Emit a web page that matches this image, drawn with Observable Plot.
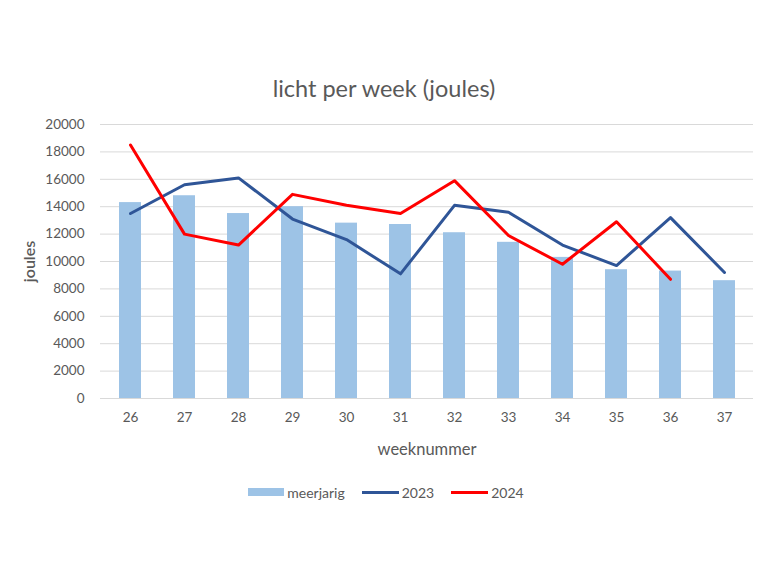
<!DOCTYPE html>
<html>
<head>
<meta charset="utf-8">
<script src="https://cdn.jsdelivr.net/npm/d3@7"></script>
<script src="https://cdn.jsdelivr.net/npm/@observablehq/plot@0.6"></script>
<style>
  html, body { margin: 0; padding: 0; background: #fff; }
  #chart { width: 768px; height: 577px; font-family: Lato, "Open Sans", sans-serif; color: #595959; }
  .title { padding-top: 73px; height: 30px; line-height: 30px; text-align: center; font-size: 23.5px; }
  .legend { display: flex; justify-content: center; align-items: center; gap: 17px; font-size: 14px; padding-top: 14px; height: 20px; padding-left: 4px; }
  .legend span.item { display: inline-flex; align-items: center; gap: 3px; }
  .sw-bar { display: inline-block; width: 36px; height: 8px; background: #9dc3e6; }
  .sw-line { display: inline-block; width: 37px; height: 3px; }
</style>
</head>
<body>
<div id="chart">
  <div class="title">licht per week (joules)</div>
  <div id="plot"></div>
  <div class="legend">
    <span class="item"><span class="sw-bar"></span>meerjarig</span>
    <span class="item"><span class="sw-line" style="background:#2f5597"></span>2023</span>
    <span class="item"><span class="sw-line" style="background:#ff0000"></span>2024</span>
  </div>
</div>
<script>
// Week numbers on the x axis
const weeks = ["26", "27", "28", "29", "30", "31", "32", "33", "34", "35", "36", "37"];
// Multi-year average light per week (joules)
const meerjarig = [14300, 14800, 13500, 14000, 12800, 12700, 12100, 11400, 10300, 9400, 9300, 8600];
// 2023 season
const y2023 = [13500, 15600, 16100, 13100, 11600, 9100, 14100, 13600, 11200, 9700, 13200, 9200];
// 2024 season (up to week 36)
const y2024 = [18500, 12000, 11200, 14900, 14100, 13500, 15900, 11900, 9800, 12900, 8700];
// Y axis ticks
const yTicks = [0, 2000, 4000, 6000, 8000, 10000, 12000, 14000, 16000, 18000, 20000];

const bars = weeks.map((w, i) => ({week: w, value: meerjarig[i]}));
const line2023 = weeks.map((w, i) => ({week: w, value: y2023[i]}));
const line2024 = y2024.map((v, i) => ({week: weeks[i], value: v}));

const plot = Plot.plot({
  width: 768,
  height: 365,
  marginTop: 21,
  marginBottom: 70,
  marginLeft: 100,
  marginRight: 15,
  style: {fontFamily: "Lato, 'Open Sans', sans-serif", fontSize: "13.5px", color: "#595959", background: "#fff"},
  x: {domain: weeks, paddingInner: 0.6, paddingOuter: 0.3},
  y: {domain: [0, 20000]},
  marks: [
    Plot.gridY(yTicks, {stroke: "#d9d9d9", strokeOpacity: 1, strokeWidth: 1}),
    Plot.barY(bars, {x: "week", y: "value", fill: "#9dc3e6"}),
    Plot.line(line2023, {x: "week", y: "value", stroke: "#2f5597", strokeWidth: 3}),
    Plot.line(line2024, {x: "week", y: "value", stroke: "#ff0000", strokeWidth: 3}),
    Plot.axisY(yTicks, {tickSize: 0, tickPadding: 16, tickFormat: d => String(d), label: null, fontSize: 13.5}),
    Plot.axisY({ticks: [], tickSize: 0, label: "joules", labelArrow: "none", labelAnchor: "center", labelOffset: 77, fontSize: 16, fontWeight: 600}),
    Plot.axisX({tickSize: 0, tickPadding: 14, label: null, fontSize: 13.5}),
    Plot.axisX({ticks: [], tickSize: 0, label: "weeknummer", labelArrow: "none", labelAnchor: "center", labelOffset: 56, fontSize: 16.5})
  ]
});
document.getElementById("plot").appendChild(plot);
</script>
</body>
</html>
